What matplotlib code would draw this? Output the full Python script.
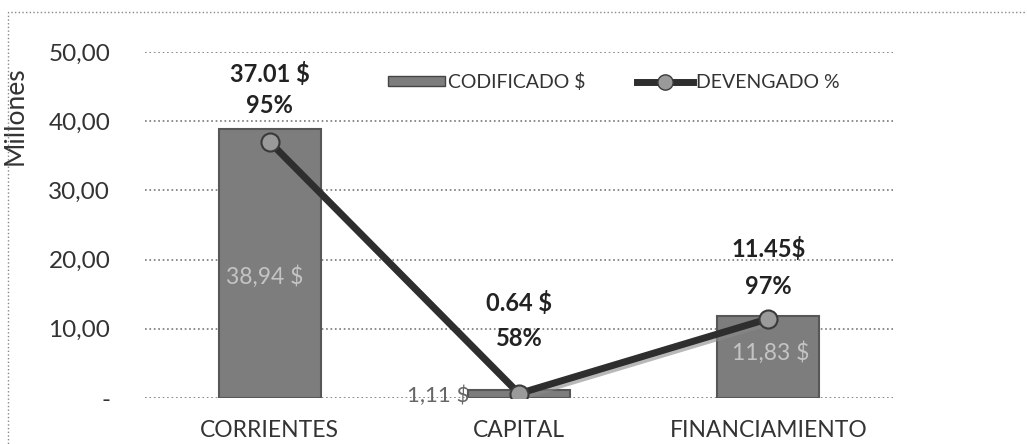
import numpy as np
import matplotlib.pyplot as plt
import matplotlib.patheffects as pe
from matplotlib.patches import Rectangle
from matplotlib.lines import Line2D

plt.rcParams['font.family'] = ['Lato', 'DejaVu Sans']

# data (millions of $)
categorias = ["CORRIENTES", "CAPITAL", "FINANCIAMIENTO"]
codificado = [38.94, 1.11, 11.83]
devengado = [37.01, 0.64, 11.45]
porcentaje = ["95%", "58%", "97%"]
etiq_codificado = ["38,94 $", "1,11 $", "11,83 $"]
etiq_devengado = ["37.01 $", "0.64 $", "11.45$"]
yticks = [0, 10, 20, 30, 40, 50]
ytick_labels = ["-", "10,00", "20,00", "30,00", "40,00", "50,00"]

fig = plt.figure(figsize=(10.27, 4.44), dpi=100)
ax = fig.add_axes([145 / 1027, 46 / 444, 748 / 1027, 346 / 444])

x = np.arange(len(categorias))
bars = ax.bar(x, codificado, width=0.41, color="#7d7d7d", edgecolor="#575757",
              linewidth=1.5, zorder=2)

shadow = [pe.SimpleLineShadow(offset=(2, -2), shadow_color="#8a8a8a", alpha=0.6),
          pe.Normal()]
ax.plot(x, devengado, color="#2e2e2e", lw=5, zorder=3, path_effects=shadow)
ax.plot(x, devengado, "o", ms=13, mfc="#9a9a9a", mec="#3a3a3a", mew=1.5, zorder=4)

# labels above the line points (offsets in points: upper, lower line)
offs_sup = [49, 65, 50]
offs_inf = [26, 40, 23]
for i in range(len(x)):
    ax.annotate(etiq_devengado[i], (x[i], devengado[i]), xytext=(0, offs_sup[i]),
                textcoords="offset points", ha="center", va="center",
                fontsize=17, fontweight="bold", color="#222222", zorder=5)
    ax.annotate(porcentaje[i], (x[i], devengado[i]), xytext=(0, offs_inf[i]),
                textcoords="offset points", ha="center", va="center",
                fontsize=17, fontweight="bold", color="#222222", zorder=5)

# labels of the bars
ax.text(x[0] - 0.02, codificado[0] / 2 - 1.9, etiq_codificado[0], ha="center",
        va="center", fontsize=16.5, color="#c4c4c4", zorder=5)
ax.text(x[1] - 0.2, codificado[1] / 2 - 0.2, etiq_codificado[1], ha="right",
        va="center", fontsize=16, color="#666666", zorder=5)
ax.text(x[2] + 0.01, codificado[2] / 2 + 0.6, etiq_codificado[2], ha="center",
        va="center", fontsize=16.5, color="#c4c4c4", zorder=5)

ax.set_xlim(-0.5, 2.5)
ax.set_ylim(0, 50)
ax.set_yticks(yticks)
ax.set_yticklabels(ytick_labels)
ax.set_xticks(x)
ax.set_xticklabels(categorias)
ax.tick_params(axis="y", length=0, pad=25, labelsize=17.5, labelcolor="#333333")
ax.tick_params(axis="x", length=0, pad=16, labelsize=16.5, labelcolor="#333333")
ax.grid(axis="y", color="#777777", linestyle=":", linewidth=1.2, zorder=0)
ax.set_axisbelow(True)
for s in ax.spines.values():
    s.set_visible(False)

ax.set_ylabel("Millones", fontsize=19, color="#333333")
ax.yaxis.set_label_coords(-0.157, 0.815)

handles = [Rectangle((0, 0), 1, 1, facecolor="#7d7d7d", edgecolor="#444444"),
           Line2D([], [], color="#2e2e2e", lw=5, marker="o", ms=11,
                  mfc="#9a9a9a", mec="#3a3a3a")]
fig.legend(handles, ["CODIFICADO $", "DEVENGADO %"], loc="center",
           bbox_to_anchor=(614 / 1027, 1 - 82 / 444), ncol=2, frameon=False,
           fontsize=14, handlelength=2.9, handleheight=0.45, columnspacing=2.65,
           handletextpad=0.15, labelcolor="#333333")

# dotted frame of the chart area
fig.patches.append(Rectangle((8 / 1027, -0.02), 1.1, (444 - 12) / 444 + 0.02,
                             transform=fig.transFigure, fill=False,
                             edgecolor="#888888", linestyle=":", linewidth=1))

fig.savefig("out.png", dpi=100)
